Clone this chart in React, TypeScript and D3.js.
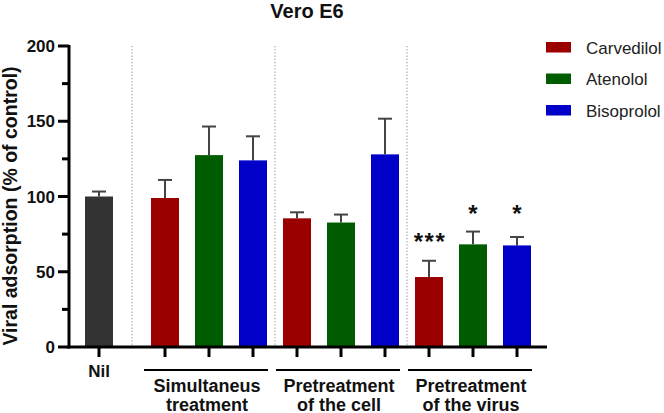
import React from "react";
import * as d3 from "d3";

const title = "Vero E6";
const yLabel = "Viral adsorption (% of control)";
const yTicks = [0, 50, 100, 150, 200];
const yMinorTicks = [25, 75, 125, 175];
const groups = [["Simultaneus", "treatment"], ["Pretreatment", "of the cell"], ["Pretreatment", "of the virus"]];
const drugs = ["Carvedilol", "Atenolol", "Bisoprolol"];
const drugColors = ["#9b0000", "#005c00", "#0000c8"];
const nilLabel = "Nil";
const nilMean = 100;
const nilUpper = 103.3;
const carvedilolMeans = [99, 85.5, 46.5];
const carvedilolUpper = [111, 89.5, 57.3];
const atenololMeans = [127.5, 82.7, 68.2];
const atenololUpper = [146.5, 88, 76.7];
const bisoprololMeans = [124, 128, 67.5];
const bisoprololUpper = [140, 151.7, 73.1];
const carvedilolSig = ["", "", "***"];
const atenololSig = ["", "", "*"];
const bisoprololSig = ["", "", "*"];

export default function App() {
  const W = 664, H = 413;
  const font = "'Liberation Sans', Arial, Helvetica, sans-serif";
  const y = d3.scaleLinear().domain([0, 200]).range([347, 46]);
  const x = d3.scaleLinear().domain([0, 1]).range([99, 143]);
  const bw = 28;
  const means = [carvedilolMeans, atenololMeans, bisoprololMeans];
  const uppers = [carvedilolUpper, atenololUpper, bisoprololUpper];
  const sigs = [carvedilolSig, atenololSig, bisoprololSig];
  const bars: any[] = [{ slot: 0, v: nilMean, u: nilUpper, c: "#333333", sig: "" }];
  groups.forEach((g, gi) => {
    drugs.forEach((d, di) => {
      bars.push({ slot: 1.5 + gi * 3 + di, v: means[di][gi], u: uppers[di][gi], c: drugColors[di], sig: sigs[di][gi] });
    });
  });
  const separators = [0.75, 4, 7];
  const axisLeft = 69, axisRight = 547;
  return (
    <svg width={W} height={H} style={{ position: "absolute", left: 0, top: 0, background: "#fff" }} fontFamily={font}>
      <text x={307} y={18} textAnchor="middle" fontWeight="bold" fontSize={20} fill="#111">{title}</text>
      {separators.map((s, i) => (
        <line key={i} x1={x(s)} x2={x(s)} y1={y(200)} y2={y(0)} stroke="#8a8a8a" strokeWidth={1} strokeDasharray="1.2,2" />
      ))}
      {bars.map((b, i) => (
        <g key={i}>
          <line x1={x(b.slot)} x2={x(b.slot)} y1={y(b.v)} y2={y(b.u)} stroke="#444" strokeWidth={2} />
          <line x1={x(b.slot) - 7} x2={x(b.slot) + 7} y1={y(b.u)} y2={y(b.u)} stroke="#444" strokeWidth={2} />
          <rect x={x(b.slot) - bw / 2} y={y(b.v)} width={bw} height={y(0) - y(b.v)} fill={b.c} />
          {b.sig && (
            <text x={x(b.slot) + (b.sig.length > 1 ? 1 : 0)} y={b.sig.length > 1 ? 250 : 222} textAnchor="middle" fontWeight="bold" fontSize={24} letterSpacing={b.sig.length > 1 ? 1.5 : 0} fill="#111">{b.sig}</text>
          )}
        </g>
      ))}
      <line x1={axisLeft} x2={axisLeft} y1={y(200) - 1} y2={y(0) + 1.5} stroke="#000" strokeWidth={3} />
      {yTicks.map((t) => (
        <g key={t}>
          <line x1={axisLeft - 11} x2={axisLeft} y1={y(t)} y2={y(t)} stroke="#000" strokeWidth={3} />
          <text x={55} y={y(t) + 6} textAnchor="end" fontWeight="bold" fontSize={17} fill="#111">{t}</text>
        </g>
      ))}
      {yMinorTicks.map((t) => (
        <line key={t} x1={axisLeft - 7} x2={axisLeft} y1={y(t)} y2={y(t)} stroke="#000" strokeWidth={3} />
      ))}
      <line x1={axisLeft - 1.5} x2={axisRight} y1={y(0)} y2={y(0)} stroke="#000" strokeWidth={3} />
      {bars.map((b, i) => (
        <line key={i} x1={x(b.slot)} x2={x(b.slot)} y1={y(0)} y2={y(0) + 10} stroke="#000" strokeWidth={3} />
      ))}
      <text x={x(0)} y={377} textAnchor="middle" fontWeight="bold" fontSize={17} fill="#111">{nilLabel}</text>
      {groups.map((g, gi) => {
        const first = x(1.5 + gi * 3), last = x(3.5 + gi * 3), mid = x(2.5 + gi * 3);
        return (
          <g key={gi}>
            <line x1={first - 21} x2={last + 15} y1={370} y2={370} stroke="#000" strokeWidth={2} />
            <text x={mid - 2} y={392} textAnchor="middle" fontWeight="bold" fontSize={18} fill="#111">{g[0]}</text>
            <text x={mid - 2} y={410.5} textAnchor="middle" fontWeight="bold" fontSize={18} fill="#111">{g[1]}</text>
          </g>
        );
      })}
      <text transform={`translate(17,206) rotate(-90)`} textAnchor="middle" fontWeight="bold" fontSize={19.5} fill="#111">{yLabel}</text>
      {drugs.map((d, i) => (
        <g key={d}>
          <rect x={546} y={42 + i * 31.5} width={25} height={10.5} fill={drugColors[i]} />
          <text x={586} y={53.5 + i * 31.5} fontSize={17} fill="#222">{d}</text>
        </g>
      ))}
    </svg>
  );
}
